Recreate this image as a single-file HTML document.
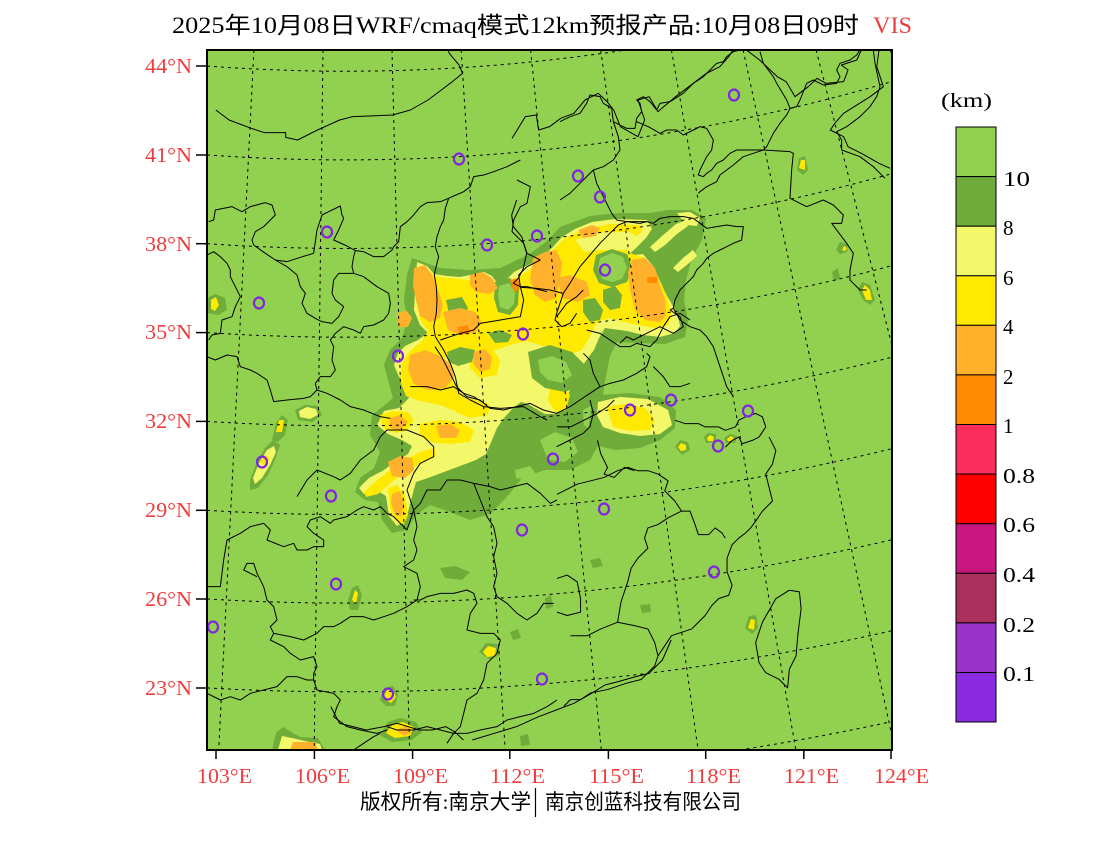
<!DOCTYPE html>
<html><head><meta charset="utf-8"><style>
html,body{margin:0;padding:0;background:#fff;width:1100px;height:850px;overflow:hidden;}
svg{display:block;overflow:hidden;}
.b polyline{fill:none;stroke:#000;stroke-width:1;vector-effect:non-scaling-stroke;stroke-linejoin:round;}
.g{fill:none;stroke:#000;stroke-width:1;stroke-dasharray:3 4;}
.dg{fill:#6FAC3A}.ly{fill:#F3F86A}.y{fill:#FFE900}.lo{fill:#FFB12C}.o{fill:#FF8C00}.gr{fill:#92D050}
.st{fill:none;stroke:#8125E3;stroke-width:2.2;}
text{font-family:"Liberation Serif","Noto Serif CJK SC","Noto Sans CJK SC",serif;}
.cj{font-family:"Liberation Serif","Noto Sans CJK SC",sans-serif;}
.rl{fill:#F03C3C;font-size:21px;}
.cb{font-size:21px;fill:#000;}
</style></head><body>
<svg width="1100" height="850" viewBox="0 0 1100 850" xmlns="http://www.w3.org/2000/svg">
<rect width="1100" height="850" fill="#fff"/>
<defs><clipPath id="mc"><rect x="207" y="50" width="685" height="700"/></clipPath></defs>
<g clip-path="url(#mc)">
<rect x="207" y="50" width="685" height="700" fill="#92D050"/>
<!-- main fog blob -->
<polygon class="dg" points="412,258 440,268 470,270 500,268 528,255 546,242 560,227 590,216 620,213 650,213 668,210 692,210 706,218 702,240 692,258 686,280 684,300 688,320 685,337 665,344 640,343 617,342 610,356 606,376 602,400 606,420 600,442 590,460 570,470 545,470 522,478 506,498 490,514 470,520 450,512 430,505 416,515 407,530 392,533 382,520 378,502 365,500 355,492 360,478 374,468 380,452 370,435 372,415 385,405 393,398 388,380 384,365 390,350 402,338 407,320 404,300 407,275"/>
<polygon class="gr" points="540,440 555,432 572,438 578,452 565,462 548,460"/>
<polygon class="gr" points="583,410 595,404 600,420 592,432 584,425"/>
<polygon class="gr" points="515,470 530,466 536,474 526,480 516,478"/>
<polygon class="ly" points="417,262 427,266 434,274 447,276 460,277 470,275 484,272 492,276 497,283 504,282 514,272 522,268 534,262 542,257 552,248 562,237 575,229 592,222 615,219 647,220 652,229 646,238 636,248 627,256 643,254 653,266 660,282 667,296 673,306 678,316 680,326 675,333 660,337 643,335 627,331 605,328 599,338 594,350 588,358 583,365 577,380 570,390 566,400 561,410 555,414 545,414 536,409 528,404 521,402 513,408 504,418 497,428 492,440 486,454 476,460 460,466 444,472 428,478 416,482 411,500 406,520 397,526 389,516 386,496 378,491 364,494 359,488 369,478 384,470 394,462 408,454 412,446 402,440 388,434 377,425 384,411 399,408 408,399 412,390 406,380 399,377 394,365 398,353 405,346 418,340 428,333 420,325 414,310 415,290"/>
<polygon class="y" points="420,268 440,277 470,280 500,287 520,276 538,264 553,250 565,238 585,229 610,224 640,225 642,232 630,240 627,252 645,258 655,270 662,285 668,300 672,315 668,325 655,328 632,324 610,318 597,322 590,336 582,350 566,356 546,347 527,341 510,345 490,352 470,356 452,353 442,361 447,375 460,390 468,404 455,411 440,405 420,401 406,396 400,381 402,363 410,351 422,341 428,331 420,320 416,300 416,280"/>
<polygon class="y" points="470,350 490,345 500,360 497,375 480,378 470,368"/>
<polygon class="y" points="550,387 562,385 570,395 566,410 555,412 548,400"/>
<polygon class="y" points="455,400 470,398 490,405 488,415 470,418 456,412"/>
<polygon class="ly" points="575,240 600,232 630,232 640,240 625,250 600,250 585,252"/>
<polygon class="dg" points="596,255 612,249 627,254 632,267 627,282 612,287 599,283 593,270"/>
<polygon class="gr" points="600,258 612,253 623,257 627,268 622,279 612,282 602,279 598,268"/>
<polygon class="dg" points="603,290 615,286 622,295 620,308 610,310 603,302"/>
<polygon class="dg" points="583,300 595,298 603,310 600,320 590,322 583,312"/>
<polygon class="dg" points="495,282 510,278 519,288 518,305 510,315 498,312 494,298"/>
<polygon class="gr" points="499,286 509,283 515,292 514,304 508,310 500,307 498,296"/>
<polygon class="dg" points="446,300 462,297 468,308 462,320 450,318"/>
<polygon class="dg" points="528,352 550,345 572,352 585,365 582,385 565,392 545,388 532,378"/>
<polygon class="gr" points="538,360 552,356 566,362 572,375 562,383 548,380 540,372"/>
<polygon class="dg" points="488,333 500,330 512,335 508,342 495,343"/>
<polygon class="dg" points="447,352 460,347 475,350 472,362 458,366 449,362"/>
<polygon class="lo" points="414,268 425,265 432,275 438,290 443,305 440,318 430,322 420,316 416,300 413,285"/>
<polygon class="lo" points="470,275 482,272 492,278 498,288 490,294 476,292 470,285"/>
<polygon class="lo" points="443,312 460,308 475,312 482,322 476,332 460,335 448,330"/>
<polygon class="lo" points="410,355 425,350 440,356 452,365 454,378 445,388 428,390 414,384 408,370"/>
<polygon class="lo" points="474,352 485,349 492,357 490,369 480,372 473,363"/>
<polygon class="lo" points="533,258 545,252 556,250 562,262 560,280 556,298 545,302 535,295 530,280"/>
<polygon class="lo" points="578,230 592,225 600,228 596,236 583,238"/>
<polygon class="lo" points="557,278 570,275 587,282 590,295 578,302 562,298"/>
<polygon class="lo" points="632,260 645,258 655,268 660,285 665,300 666,315 660,322 645,320 635,310 630,290 628,272"/>
<polygon class="lo" points="397,314 406,310 412,318 408,327 398,327"/>
<polygon class="o" points="510,280 518,278 521,288 514,292"/>
<polygon class="o" points="457,327 468,325 470,333 460,335"/>
<polygon class="o" points="647,277 657,277 657,283 647,283"/>
<!-- tail -->
<polygon class="y" points="364,492 375,482 390,470 405,460 420,452 434,448 436,456 420,464 405,472 392,482 378,494 366,497"/>
<polygon class="y" points="388,488 397,485 405,495 408,515 404,524 396,522 390,508"/>
<polygon class="y" points="380,415 392,411 408,412 414,420 408,430 395,433 383,428"/>
<polygon class="y" points="420,424 440,420 460,422 474,430 470,442 450,444 430,442 420,436"/>
<polygon class="lo" points="388,462 400,456 412,458 414,470 405,478 392,476"/>
<polygon class="lo" points="392,494 400,491 404,505 401,517 395,514 391,503"/>
<polygon class="lo" points="436,426 450,424 460,430 456,438 440,438"/>
<polygon class="lo" points="390,418 400,415 408,422 400,430 390,428"/>
<!-- Shandong streaks -->
<polygon class="ly" points="650,247 662,236 676,224 684,221 688,226 677,234 665,245 655,252"/>
<polygon class="ly" points="677,213 690,212 700,218 697,226 686,225"/>
<polygon class="ly" points="673,268 683,258 693,250 697,256 688,264 678,272"/>
<!-- east patch -->
<polygon class="dg" points="592,402 600,395 630,393 660,397 676,410 675,428 660,440 640,448 615,450 595,445 588,430"/>
<polygon class="ly" points="598,402 620,397 648,399 668,410 672,425 660,434 640,436 620,433 603,427 597,415"/>
<polygon class="y" points="607,407 625,404 645,408 655,420 650,430 630,431 613,427"/>
<!-- small patches -->
<polygon class="dg" points="250,480 257,462 265,448 273,440 280,445 275,460 268,475 258,488 250,490"/>
<polygon class="ly" points="253,478 259,463 267,450 274,446 276,452 270,465 262,478 255,484"/>
<polygon class="y" points="260,462 266,455 270,458 265,466"/>
<polygon class="dg" points="272,440 276,423 282,415 288,420 285,435 278,442"/>
<polygon class="y" points="276,432 279,420 284,420 282,432"/>
<polygon class="dg" points="207,298 215,294 225,298 227,310 218,315 207,313"/>
<polygon class="y" points="211,300 216,297 219,305 215,311 211,309"/>
<polygon class="dg" points="295,410 305,405 318,406 322,415 312,422 298,420"/>
<polygon class="ly" points="299,411 307,407 316,409 318,415 310,419 300,417"/>
<polygon class="dg" points="348,600 352,588 358,585 362,595 358,610 350,610"/>
<polygon class="y" points="352,600 355,590 358,593 356,604"/>
<polygon class="dg" points="272,750 276,733 283,727 300,737 318,738 325,750"/>
<polygon class="ly" points="278,750 282,736 292,738 305,741 320,744 322,750"/>
<polygon class="lo" points="290,750 293,742 315,742 318,750"/>
<polygon class="dg" points="380,735 388,722 400,718 416,722 422,732 412,740 392,742"/>
<polygon class="y" points="386,733 393,724 403,722 414,727 410,736 395,738"/>
<polygon class="lo" points="396,730 406,726 412,732 404,736"/>
<polygon class="dg" points="380,700 384,688 393,686 398,695 395,706 386,706"/>
<polygon class="y" points="383,698 387,690 393,690 396,697 391,703"/>
<polygon class="dg" points="479,652 486,643 497,644 500,655 490,660"/>
<polygon class="y" points="483,652 488,646 496,648 495,656 487,657"/>
<polygon class="dg" points="745,628 749,616 756,615 758,628 752,634"/>
<polygon class="y" points="748,628 751,619 755,620 754,630"/>
<polygon class="dg" points="797,170 799,158 805,156 808,170 803,175"/>
<polygon class="y" points="799,168 801,160 805,160 805,170"/>
<polygon class="dg" points="836,250 840,242 848,244 847,252 840,254"/>
<polygon class="y" points="842,250 844,246 847,248 845,251"/>
<polygon class="dg" points="858,290 862,282 870,285 875,300 870,305 863,300"/>
<polygon class="y" points="862,290 865,285 870,290 872,300 866,300"/>
<polygon class="dg" points="675,447 680,440 688,442 690,450 682,455"/>
<polygon class="y" points="678,447 681,443 686,445 686,450 681,451"/>
<polygon class="dg" points="704,437 708,433 716,434 716,442 706,443"/>
<polygon class="y" points="707,438 710,435 714,437 713,441 708,441"/>
<polygon class="dg" points="724,438 730,434 737,436 735,443 726,443"/>
<polygon class="y" points="727,439 731,436 734,438 733,441 728,441"/>
<polygon class="dg" points="510,632 518,629 521,638 513,640"/>
<polygon class="dg" points="545,598 551,595 553,607 546,609"/>
<polygon class="dg" points="640,605 650,604 651,612 642,613"/>
<polygon class="dg" points="520,736 528,734 530,745 521,746"/>
<polygon class="dg" points="832,272 838,268 840,278 834,282"/>
<polygon class="dg" points="440,568 455,566 470,572 462,580 445,578"/>
<polygon class="dg" points="590,560 600,558 603,566 593,568"/>
<!-- borders -->
<g class="b" transform="translate(207,50) scale(0.44209,0.33333)">
<polyline points="20,180 50,210 100,235 130,248 178,248 178,262 205,270 250,240 300,210 330,200 420,195 460,180 500,150 530,120 555,95 578,70 570,45 548,10 545,0"/>
<polyline points="690,265 720,200 745,195 750,240 775,230 800,205 830,190 855,150 885,130 905,155 920,180 935,230 975,260 990,210 975,150 1000,140 1020,185 1060,140 1100,100 1130,70 1160,50 1180,20 1190,0"/>
<polyline points="1220,0 1250,30 1290,80 1310,95 1330,140 1360,110 1380,85 1400,100 1440,95 1450,60 1435,45 1470,30 1480,0"/>
<polyline points="1520,0 1515,50 1530,110 1500,140 1440,190 1420,220 1410,240 1440,260 1450,290 1480,310 1520,340 1545,355"/>
</g>
<g class="b" transform="translate(207,160) scale(0.33333)">
<polyline points="5,185 20,180 25,150 75,140 105,155 130,140 175,128 195,135 205,165 190,180 170,200 145,215 135,240 140,255 175,280 205,300 240,305 280,292 320,280"/>
<polyline points="320,280 330,210 345,165 365,155 400,138 405,165 410,175 395,210 380,240 420,258 445,272 440,290 435,320 440,340 395,340 380,360 375,400 385,420 410,440 395,470 375,490 345,485 330,478 300,460 285,430 295,400 280,380 270,345 240,320 205,300"/>
<polyline points="445,272 470,275 500,290 530,290 555,270 560,260 575,245 580,200 600,185 620,165 640,140 660,128 700,125 725,115 740,108 770,95 790,80 800,50 830,45 860,35 900,20 940,0"/>
<polyline points="725,115 715,145 710,180 700,200 690,230 685,260 695,290 685,330 682,345 688,380 690,420 688,460 680,500 685,530"/>
<polyline points="440,340 470,350 510,380 545,400 550,430 545,460 530,480 500,495 470,500 460,520 440,510 410,500 385,520 370,540 380,560 375,600 385,630 370,650 340,650 325,670 330,690"/>
<polyline points="0,590 25,600 60,585 90,590 100,620 130,630 150,640 180,660 190,690 200,725 240,720 290,715 310,710 330,690 360,700 400,720 430,740 470,750 520,770 550,775"/>
<polyline points="0,285 20,275 40,290 60,310 70,330 70,350 85,380 100,410 85,440 75,470 45,480 40,520 15,525 5,540"/>
<polyline points="685,530 710,570 730,610 745,650 755,700 790,720 830,740 880,745 950,740 1000,770 1020,780"/>
<polyline points="610,680 660,680 700,690 740,680 770,700 800,710 840,735"/>
<polyline points="700,540 760,520 800,510 820,490 880,480 940,470 950,420 940,380 960,380 1020,395"/>
<polyline points="940,380 935,345 960,320 1000,300"/>
<polyline points="930,60 970,80 960,130 940,140 920,180 915,215 950,250 960,280 1000,300"/>
</g>
<g class="b" transform="translate(370,200) scale(0.33333)">
<polyline points="440,0 425,45 430,80 455,110 470,160 460,205 445,235 430,250 455,262 500,265 540,270 580,280"/>
<polyline points="580,280 600,250 630,200 660,165 690,130 720,100 745,75 770,65 830,65"/>
<polyline points="580,280 570,310 560,340 555,360 575,380 600,370 620,340"/>
<polyline points="560,350 590,310 620,290 640,270"/>
<polyline points="650,390 690,400 720,420 750,440 780,440 800,430 840,440 860,420 880,380 900,350 930,340 960,360"/>
<polyline points="640,460 660,480 670,520 690,560 660,580 630,600 600,620 560,640 520,630 480,610 440,620 400,630 360,625 330,600 290,590 260,560 240,520 215,470 195,440"/>
<polyline points="690,560 720,550 760,540 800,520 830,500 840,470 830,460"/>
<polyline points="850,500 880,530 900,560 930,560 960,550"/>
<polyline points="660,600 670,640 660,680 640,700 600,720 560,740"/>
</g>
<g class="b" transform="translate(560,50) scale(0.33333)">
<polyline points="0,215 30,200 60,190 80,160 90,135 120,140 130,160 155,175 160,215 200,235 225,235 230,205 245,185 240,160 230,150 250,140 270,155 290,180 300,160 330,155 370,130 400,100 430,80 450,60 470,40 490,35 500,20 520,5 540,0"/>
<polyline points="600,5 610,40 640,80 650,100 680,150 690,175 710,170 720,150 740,100 760,90 790,105 830,100 840,80 830,60 840,40 870,30 890,15 900,0"/>
<polyline points="690,175 680,195 660,220 640,250 620,290 610,300 690,305 700,310 695,360 690,445 740,470 790,450 820,465 850,495 845,520 815,520 860,580 880,610 870,660 870,690 900,720 920,720"/>
<polyline points="940,0 945,40 960,110 950,140 930,170 900,200 860,230 830,245 845,270 845,300 900,320 940,350 975,385"/>
<polyline points="230,215 265,230 300,250 320,240 350,240 370,255 400,240 420,230 440,235 460,270 455,300 440,320 430,340 420,360 415,375 430,380 440,370 455,360 470,340 490,330 510,310 530,300 560,300 590,300 610,300"/>
<polyline points="610,300 580,310 550,320 520,345 500,360 480,375 470,395 440,410 420,425 415,430"/>
<polyline points="160,215 175,260 180,300 160,330 130,350 100,360 110,400 130,440 140,460 155,490 170,510 200,515 240,520 260,515 280,520 300,505 330,500 370,500 400,505 420,520 440,535 470,530 500,525 530,530 550,530 545,570 520,580 500,590 480,600 460,610 440,625 430,640 410,660 400,680 380,700 360,720 345,750 340,775 330,780"/>
<polyline points="0,450 30,430 60,400 80,380 100,360"/>
<polyline points="330,780 360,800 370,830 340,850 300,830 260,850 220,870 200,860 180,880"/>
<polyline points="340,775 360,810 390,830 420,840 440,860 460,890 470,920 480,950 490,980 500,1010 520,1040"/>
</g>
<g class="b" transform="translate(557,400) scale(0.3367)">
<polyline points="630,110 650,150 640,190 620,220 630,260 640,300 610,330 590,360 575,380 560,395 540,410 520,430 505,470 505,510 520,550 510,580 480,590 460,610 440,640 420,660 400,680 370,690 340,700 320,730 300,760 290,790 270,810 250,830 210,840 180,850 150,860 100,870 70,890 40,890 20,910"/>
<polyline points="0,280 40,260 60,250 100,240 140,230 180,210 210,200 240,210 270,210 300,220 330,240 320,270 350,300 370,330 395,330 410,370 420,400 450,400 470,380 490,395 500,410"/>
<polyline points="370,330 330,350 300,370 270,380 260,410 270,440 240,470 220,500 210,540 190,600 180,660 130,680 90,700 40,700"/>
<polyline points="180,660 230,670 270,680 290,720 300,760"/>
<polyline points="0,530 30,520 60,540 70,590 70,630 30,640 0,630"/>
<polyline points="0,80 40,80 80,60 120,40 150,20 170,0"/>
<polyline points="120,120 130,160 150,200 140,220 170,230 200,200 230,210"/>
<polyline points="350,60 380,70 420,70 440,80 480,80 500,90 530,80 540,60 560,50 590,40 610,50 620,80 600,110 580,120 550,130 540,110 520,120 500,140"/>
<polyline points="690,565 720,570 725,620 715,700 710,760 690,800 685,855 660,830 620,810 600,780 590,720 610,660 650,590 690,565"/>
</g>
<g class="b" transform="translate(207,400) scale(0.33333)">
<polyline points="0,560 40,560 50,480 60,420 100,400 130,380 170,370 190,390 180,420 230,440 260,430 270,450 300,450 320,440 350,440 350,420 320,400 300,380 310,360 340,350 370,370 380,360 420,350 450,330 470,320 500,330 520,320 540,340 560,350 580,370 600,390 610,360 620,330 640,310 660,270 700,270 720,240 760,240 800,250 850,260 880,270 920,260 960,250 1000,280 1030,310 1050,300"/>
<polyline points="270,290 300,240 330,210 380,230 400,240 430,220 460,180 500,150 520,110 540,90 600,90 650,110 680,140 680,170 640,190 620,220 600,270 610,300 620,330"/>
<polyline points="620,330 630,380 620,420 630,450 620,480 590,500 630,520 640,560 630,600 600,620 560,640 530,650 500,660 470,650 430,650 400,670 380,680 350,680 330,700 290,720 250,710 200,700 190,680 210,660 200,620 180,600 170,560 150,520 140,490 120,490 110,510 130,520 150,530"/>
<polyline points="200,700 190,720 230,740 250,760 280,780 320,770 330,800 320,820 320,840 330,870 380,880 400,900 390,920 380,950 420,980 460,990 510,1000 540,990"/>
<polyline points="620,600 640,600 660,590 700,580 740,580 780,570 800,580 810,610 790,640 780,690 820,700 860,700 880,720 870,760 840,790 830,840 810,880 780,900 770,940 760,980 740,1000 720,1030"/>
<polyline points="800,250 820,300 840,350 860,380 870,430 860,470 870,520 860,560 870,590 900,610 930,640 960,660 990,640 1010,610 1040,610"/>
<polyline points="540,980 570,990 620,990 660,980 700,990 740,1000 780,1000 820,990 870,980 900,960 940,950 980,940 1020,920 1050,900"/>
<polyline points="0,880 40,900 70,890 100,900 130,880 170,870 210,860 240,830 270,830 300,840 320,840"/>
<polyline points="440,1050 470,1030 500,1010 520,1000"/>
</g>
<g class="b" transform="translate(207,640) scale(0.44209,0.33333)">
<polyline points="600,300 650,280 700,260 750,230 790,210 830,190 870,160 900,135 930,125 970,110 1000,100 1030,60 1040,30 1050,0"/>
<polyline points="280,200 300,250 330,260 360,270 400,260 430,250 480,270 510,270 540,260 560,275 580,300"/>
</g>
<!-- graticule -->
<g class="g">
<path d="M207,66 A1851.2,1851.2 0 0 0 625.4,50"/>
<path d="M207,154.9 A1939.9,1939.9 0 0 0 892,81.5"/>
<path d="M207,243.7 A2028.5,2028.5 0 0 0 892,173.6"/>
<path d="M207,332.6 A2117.2,2117.2 0 0 0 892,265.6"/>
<path d="M207,421.4 A2205.8,2205.8 0 0 0 892,357.2"/>
<path d="M207,510.3 A2294.5,2294.5 0 0 0 892,448.6"/>
<path d="M207,599 A2383.1,2383.1 0 0 0 892,539.7"/>
<path d="M207,687.9 A2471.8,2471.8 0 0 0 892,630.7"/>
<path d="M739.4,750 A2560.4,2560.4 0 0 0 892,721.5"/>
<line x1="253.9" y1="50" x2="218.7" y2="750"/>
<line x1="323" y1="50" x2="314.2" y2="750"/>
<line x1="392" y1="50" x2="409.6" y2="750"/>
<line x1="461.2" y1="50" x2="505.2" y2="750"/>
<line x1="530.6" y1="50" x2="601.3" y2="750"/>
<line x1="600.7" y1="50" x2="698.1" y2="750"/>
<line x1="671.4" y1="50" x2="795.9" y2="750"/>
<line x1="743.1" y1="50" x2="892" y2="736"/>
<line x1="816.1" y1="50" x2="892" y2="345.5"/>
<line x1="890.4" y1="50" x2="892" y2="55.5"/>
</g>
<!-- stations -->
<g class="st">
<ellipse cx="734" cy="95" rx="5" ry="5.5"/><ellipse cx="459" cy="159" rx="5" ry="5.5"/>
<ellipse cx="578" cy="176" rx="5" ry="5.5"/><ellipse cx="600" cy="197" rx="5" ry="5.5"/>
<ellipse cx="327" cy="232" rx="5" ry="5.5"/><ellipse cx="537" cy="236" rx="5" ry="5.5"/>
<ellipse cx="487" cy="245" rx="5" ry="5.5"/><ellipse cx="259" cy="303" rx="5" ry="5.5"/>
<ellipse cx="605" cy="270" rx="5" ry="5.5"/><ellipse cx="523" cy="334" rx="5" ry="5.5"/>
<ellipse cx="398" cy="356" rx="5" ry="5.5"/><ellipse cx="671" cy="400" rx="5" ry="5.5"/>
<ellipse cx="630" cy="410" rx="5" ry="5.5"/><ellipse cx="748" cy="411" rx="5" ry="5.5"/>
<ellipse cx="718" cy="446" rx="5" ry="5.5"/><ellipse cx="553" cy="459" rx="5" ry="5.5"/>
<ellipse cx="262" cy="462" rx="5" ry="5.5"/><ellipse cx="331" cy="496" rx="5" ry="5.5"/>
<ellipse cx="604" cy="509" rx="5" ry="5.5"/><ellipse cx="522" cy="530" rx="5" ry="5.5"/>
<ellipse cx="714" cy="572" rx="5" ry="5.5"/><ellipse cx="336" cy="584" rx="5" ry="5.5"/>
<ellipse cx="213" cy="627" rx="5" ry="5.5"/><ellipse cx="542" cy="679" rx="5" ry="5.5"/>
<ellipse cx="388" cy="694" rx="5" ry="5.5"/>
</g>
</g>
<!-- frame -->
<rect x="207" y="50" width="685" height="700" fill="none" stroke="#000" stroke-width="2"/>
<!-- ticks -->
<g stroke="#000" stroke-width="1.5">
<line x1="196" y1="66" x2="207" y2="66"/><line x1="196" y1="155" x2="207" y2="155"/>
<line x1="196" y1="243.7" x2="207" y2="243.7"/><line x1="196" y1="332.6" x2="207" y2="332.6"/>
<line x1="196" y1="421.4" x2="207" y2="421.4"/><line x1="196" y1="510.3" x2="207" y2="510.3"/>
<line x1="196" y1="599" x2="207" y2="599"/><line x1="196" y1="688" x2="207" y2="688"/>
<line x1="216" y1="750" x2="216" y2="759"/><line x1="314.4" y1="750" x2="314.4" y2="759"/>
<line x1="412.6" y1="750" x2="412.6" y2="759"/><line x1="509.8" y1="750" x2="509.8" y2="759"/>
<line x1="608.4" y1="750" x2="608.4" y2="759"/><line x1="705.7" y1="750" x2="705.7" y2="759"/>
<line x1="803.8" y1="750" x2="803.8" y2="759"/><line x1="891" y1="750" x2="891" y2="759"/>
</g>
<!-- axis labels -->
<g class="rl">
<text x="145" y="73" textLength="47" lengthAdjust="spacingAndGlyphs">44°N</text>
<text x="145" y="162" textLength="47" lengthAdjust="spacingAndGlyphs">41°N</text>
<text x="145" y="251" textLength="47" lengthAdjust="spacingAndGlyphs">38°N</text>
<text x="145" y="339" textLength="47" lengthAdjust="spacingAndGlyphs">35°N</text>
<text x="145" y="428" textLength="47" lengthAdjust="spacingAndGlyphs">32°N</text>
<text x="145" y="517" textLength="47" lengthAdjust="spacingAndGlyphs">29°N</text>
<text x="145" y="606" textLength="47" lengthAdjust="spacingAndGlyphs">26°N</text>
<text x="145" y="695" textLength="47" lengthAdjust="spacingAndGlyphs">23°N</text>
<text x="197" y="783" textLength="55" lengthAdjust="spacingAndGlyphs">103°E</text>
<text x="295" y="783" textLength="55" lengthAdjust="spacingAndGlyphs">106°E</text>
<text x="393" y="783" textLength="55" lengthAdjust="spacingAndGlyphs">109°E</text>
<text x="490" y="783" textLength="55" lengthAdjust="spacingAndGlyphs">112°E</text>
<text x="589" y="783" textLength="55" lengthAdjust="spacingAndGlyphs">115°E</text>
<text x="686" y="783" textLength="55" lengthAdjust="spacingAndGlyphs">118°E</text>
<text x="784" y="783" textLength="55" lengthAdjust="spacingAndGlyphs">121°E</text>
<text x="874" y="783" textLength="55" lengthAdjust="spacingAndGlyphs">124°E</text>
</g>
<!-- title -->
<text class="cj" x="172" y="33" font-size="23" fill="#000" textLength="687" lengthAdjust="spacingAndGlyphs">2025年10月08日WRF/cmaq模式12km预报产品:10月08日09时</text>
<text x="873" y="33" font-size="23" fill="#F03C3C" textLength="39" lengthAdjust="spacingAndGlyphs">VIS</text>
<!-- colorbar -->
<g stroke="#000" stroke-width="1">
<rect x="956" y="127" width="40" height="49.6" fill="#92D050"/>
<rect x="956" y="176.6" width="40" height="49.6" fill="#70AC3B"/>
<rect x="956" y="226.2" width="40" height="49.6" fill="#F3F86A"/>
<rect x="956" y="275.8" width="40" height="49.5" fill="#FFE900"/>
<rect x="956" y="325.3" width="40" height="49.6" fill="#FFB12C"/>
<rect x="956" y="374.9" width="40" height="49.6" fill="#FF8C00"/>
<rect x="956" y="424.5" width="40" height="49.6" fill="#FC2D5A"/>
<rect x="956" y="474.1" width="40" height="49.6" fill="#FF0000"/>
<rect x="956" y="523.7" width="40" height="49.6" fill="#C8187F"/>
<rect x="956" y="573.3" width="40" height="49.6" fill="#AD2F5E"/>
<rect x="956" y="622.9" width="40" height="49.6" fill="#9A33CC"/>
<rect x="956" y="672.5" width="40" height="49.5" fill="#8A2BE2"/>
</g>
<text x="941" y="107" font-size="20" textLength="51" lengthAdjust="spacingAndGlyphs">(km)</text>
<g class="cb">
<text x="1003" y="186" textLength="27" lengthAdjust="spacingAndGlyphs">10</text>
<text x="1003" y="235">8</text>
<text x="1003" y="285">6</text>
<text x="1003" y="334">4</text>
<text x="1003" y="384">2</text>
<text x="1003" y="433">1</text>
<text x="1003" y="483" textLength="32" lengthAdjust="spacingAndGlyphs">0.8</text>
<text x="1003" y="532" textLength="32" lengthAdjust="spacingAndGlyphs">0.6</text>
<text x="1003" y="582" textLength="32" lengthAdjust="spacingAndGlyphs">0.4</text>
<text x="1003" y="632" textLength="32" lengthAdjust="spacingAndGlyphs">0.2</text>
<text x="1003" y="681" textLength="32" lengthAdjust="spacingAndGlyphs">0.1</text>
</g>
<!-- footer -->
<text class="cj" x="360" y="809" font-size="21" textLength="171" lengthAdjust="spacingAndGlyphs">版权所有:南京大学</text>
<line x1="535.5" y1="788" x2="535.5" y2="817" stroke="#000" stroke-width="1.2"/>
<text class="cj" x="545" y="809" font-size="21" textLength="196" lengthAdjust="spacingAndGlyphs">南京创蓝科技有限公司</text>
</svg>
</body></html>
